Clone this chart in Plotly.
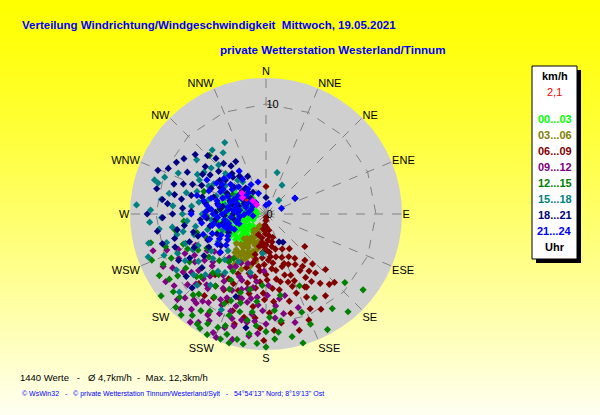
"""
Windrose (Verteilung Windrichtung/Windgeschwindigkeit) im WsWin32-Stil
"""

import plotly.graph_objects as go

W, H = 600, 415

# Richtungen / Beschriftung
directions = [i * 22.5 for i in range(16)]
direction_labels = ['N', 'NNE', 'NE', 'ENE', 'E', 'ESE', 'SE', 'SSE',
                    'S', 'SSW', 'SW', 'WSW', 'W', 'WNW', 'NW', 'NNW']
ring_kmh = [10]
radial_ticks = [0, 10]

# Zeitklassen (Uhr)
hour_bins = ['00...03', '03...06', '06...09', '09...12',
             '12...15', '15...18', '18...21', '21...24']
bin_colors = ['#00FF00', '#808000', '#800000', '#800080',
              '#008000', '#008080', '#000080', '#0000FF']

# Messwerte (Richtung in Grad, Geschwindigkeit km/h), aus dem Bild geschaetzt
pts_00_03 = [(300, 3.0), (305, 2.6), (310, 2.2), (295, 2.8), (290, 3.2), (285, 2.5),
             (280, 3.0), (275, 2.2), (270, 3.4), (265, 2.8), (260, 3.0), (255, 2.4),
             (250, 3.3), (245, 3.6), (240, 3.0), (235, 3.4), (230, 2.8), (300, 1.8),
             (290, 1.5), (280, 1.8), (270, 1.2), (260, 1.6), (250, 2.0), (240, 2.2),
             (310, 1.2), (295, 3.8), (285, 4.0), (275, 3.9), (265, 3.6), (255, 3.9),
             (248, 4.2), (238, 3.9), (300, 2.2), (282, 2.7), (262, 2.1), (252, 2.7),
             (244, 2.5), (234, 2.0), (228, 3.2), (315, 2.8), (320, 1.9), (288, 1.0),
             (272, 0.8), (256, 1.0), (225, 2.5), (270, 2.6), (278, 3.5), (258, 3.3),
             (242, 3.1), (293, 2.3), (236, 1.8), (232, 2.4), (228, 1.6), (222, 2.0),
             (218, 2.6), (226, 3.8), (245, 1.3), (262, 3.9), (268, 3.0), (284, 2.1),
             (296, 1.4), (304, 3.4), (298, 3.5), (286, 3.4), (276, 2.8), (254, 1.6),
             (246, 2.9), (238, 2.6), (292, 4.2), (274, 4.4), (260, 4.4), (250, 4.6),
             (308, 2.9), (317, 2.2), (266, 1.4), (280, 1.2), (240, 3.5), (230, 3.6),
             (220, 3.2)]
pts_03_06 = [(210, 1.5), (210, 2.0), (212, 2.5), (210, 3.0), (208, 3.5), (212, 4.0),
             (215, 4.3), (205, 4.5), (215, 3.2), (218, 2.8), (205, 2.2), (200, 3.0),
             (203, 3.8), (220, 3.6), (220, 4.2), (198, 4.0), (195, 3.4), (200, 4.8),
             (207, 5.0), (213, 2.0), (217, 1.8), (222, 3.0), (225, 3.8), (202, 1.8),
             (196, 2.6), (209, 4.2), (214, 4.8), (192, 4.4), (206, 2.7), (211, 3.3),
             (190, 3.0), (204, 5.5), (218, 5.2), (209, 1.2), (211, 1.8), (207, 2.4),
             (213, 2.9), (209, 3.4), (206, 3.9), (211, 4.4), (216, 4.8), (203, 4.2),
             (199, 3.6), (201, 2.8), (214, 3.7), (219, 4.5), (208, 4.8), (197, 5.0),
             (212, 5.4)]
pts_06_09 = [(180, 0.6), (178, 1.2), (182, 1.8), (176, 2.4), (183, 3.0), (175, 3.5),
             (185, 4.0), (172, 4.5), (188, 4.8), (170, 1.5), (168, 2.6), (165, 3.3),
             (190, 2.2), (192, 3.0), (195, 3.8), (174, 3.9), (186, 1.0), (180, 2.8),
             (170, 5.2), (180, 5.5), (190, 5.8), (160, 4.2), (163, 5.0), (158, 6.0),
             (150, 5.3), (145, 5.8), (148, 6.8), (140, 7.0), (142, 8.0), (138, 8.6),
             (135, 8.8), (152, 7.5), (160, 7.0), (168, 6.3), (175, 6.8), (182, 7.2),
             (195, 6.5), (200, 7.4), (205, 6.0), (198, 8.0), (188, 8.5), (178, 9.0),
             (165, 8.2), (155, 9.5), (185, 6.2), (200, 5.2), (210, 6.8), (215, 8.0),
             (220, 7.2), (192, 9.6), (172, 10.0), (183, 10.4), (160, 4.8), (155, 3.5),
             (0, 2.5), (162, 6.5), (147, 4.8), (195, 4.6), (205, 7.0), (212, 9.0),
             (175, 8.0), (158, 10.4), (140, 5.5), (133, 7.4), (210, 10.5), (130, 4.6),
             (152, 4.4), (149, 6.0), (143, 6.5), (151, 7.6), (159, 7.7), (178, 0.3),
             (184, 1.5), (172, 2.0), (188, 2.6), (179, 3.3), (170, 3.0), (185, 3.5),
             (177, 4.2), (182, 4.6), (193, 4.2), (167, 4.0), (174, 5.0), (186, 5.2),
             (196, 5.6), (179, 6.0), (171, 6.0), (163, 5.8), (188, 6.8), (181, 7.8),
             (192, 7.4), (170, 7.0), (157, 6.6), (154, 8.4), (146, 7.4), (137, 6.2),
             (144, 9.2), (166, 9.3), (186, 9.5), (199, 9.3), (204, 8.6), (209, 7.9),
             (217, 9.3), (224, 8.8), (196, 10.4), (176, 10.6), (164, 11.0), (150, 10.0),
             (181, 11.5), (156, 5.0), (146, 3.8), (164, 2.2), (191, 1.4), (200, 2.0)]
pts_09_12 = [(243, 10.5), (243, 8.9), (240, 7.5), (235, 9.2), (230, 8.0), (232, 10.6),
             (228, 6.5), (225, 9.0), (222, 7.6), (220, 10.2), (218, 8.6), (215, 6.8),
             (213, 9.6), (210, 7.8), (208, 11.0), (205, 8.4), (203, 6.2), (200, 9.4),
             (198, 7.2), (196, 10.6), (194, 5.8), (192, 8.2), (190, 6.8), (188, 9.2),
             (186, 7.6), (184, 10.9), (202, 12.1), (218, 10.3), (171, 7.8), (167, 7.6),
             (161, 9.0), (175, 9.5), (178, 6.5), (182, 5.2), (200, 4.8), (210, 5.5),
             (220, 5.2), (226, 11.2), (236, 11.0), (212, 11.6), (195, 11.8), (230, 5.5),
             (238, 6.3), (205, 10.0), (215, 12.0), (188, 11.2), (207, 5.0), (224, 8.2),
             (233, 7.0), (198, 8.8), (185, 8.3), (193, 9.9), (165, 10.2), (246, 7.0),
             (250, 9.6), (190, 7.8), (194, 7.0), (200, 6.4), (204, 7.6), (208, 8.8),
             (212, 7.2), (216, 9.8), (220, 8.4), (224, 10.6), (228, 9.6), (232, 8.6),
             (236, 7.8), (240, 9.8), (244, 8.2), (248, 8.6), (252, 10.8), (200, 11.0),
             (204, 11.8), (190, 10.0), (186, 9.8), (182, 8.8), (179, 7.4), (174, 8.4),
             (170, 9.2), (196, 8.0), (214, 5.8), (226, 6.8), (234, 5.8), (222, 11.6),
             (210, 10.6), (218, 11.0), (206, 9.2), (198, 10.0), (180, 10.0), (188, 6.2)]
pts_12_15 = [(131, 9.5), (152, 11.9), (164, 12.2), (168, 11.4), (176, 11.4), (180, 10.7),
             (206, 12.2), (196, 12.2), (193, 11.7), (212, 11.8), (230, 11.0), (226, 10.9),
             (220, 9.5), (215, 8.0), (210, 10.2), (205, 9.0), (200, 10.8), (198, 7.5),
             (190, 9.8), (186, 8.0), (183, 6.5), (175, 8.8), (170, 7.5), (222, 7.2),
             (228, 8.5), (235, 9.8), (238, 8.2), (242, 7.0), (245, 9.5), (240, 11.2),
             (233, 6.5), (225, 6.0), (218, 5.5), (208, 6.8), (202, 8.5), (195, 9.2),
             (188, 11.0), (160, 9.5), (155, 7.2), (150, 8.8), (172, 9.8), (214, 10.6),
             (250, 8.0), (248, 5.8), (255, 6.5), (316, 7.4), (300, 3.5), (290, 6.0),
             (260, 4.6), (265, 7.5), (203, 11.2), (185, 10.2), (210, 12.0), (198, 11.5),
             (200, 12.1), (208, 11.3), (216, 11.4), (220, 12.0), (224, 11.8), (232, 12.1),
             (236, 10.6), (244, 10.4), (248, 11.2), (252, 9.6), (256, 10.8), (246, 7.8),
             (240, 6.2), (236, 8.8), (230, 7.6), (226, 8.2), (222, 9.9), (218, 7.0),
             (212, 8.9), (206, 7.6), (200, 9.8), (196, 8.4), (192, 7.0), (188, 9.0),
             (184, 11.8), (178, 9.4), (174, 10.8), (190, 12.0), (180, 12.1), (158, 10.8),
             (145, 10.5), (140, 11.6), (128, 11.2), (260, 8.4), (268, 5.4), (210, 6.0),
             (216, 5.0)]
pts_15_18 = [(274, 11.8), (287, 10.6), (254, 9.4), (297, 6.8), (15, 3.9), (29, 3.0),
             (43, 1.7), (300, 5.5), (305, 4.5), (310, 6.5), (315, 5.2), (290, 4.8),
             (285, 7.5), (280, 6.2), (275, 8.5), (270, 5.8), (265, 7.2), (260, 6.5),
             (255, 5.5), (250, 7.8), (245, 6.8), (240, 8.5), (235, 7.5), (230, 6.3),
             (225, 7.8), (220, 6.8), (262, 9.8), (278, 9.6), (295, 8.8), (268, 4.5),
             (282, 3.8), (250, 4.2), (240, 5.0), (320, 4.0), (325, 6.8), (330, 7.5),
             (308, 8.0), (272, 10.5), (257, 8.3), (248, 10.0), (290, 9.8), (300, 3.2),
             (312, 3.6), (246, 8.8), (232, 9.2), (215, 6.5), (210, 5.0), (195, 5.5),
             (185, 3.6), (205, 9.6), (228, 10.6), (300, 7.2), (268, 9.5), (258, 7.7),
             (325, 4.2), (324, 3.6), (260, 3.6), (264, 5.0), (270, 7.6), (276, 6.8),
             (284, 5.4), (288, 6.6), (292, 4.0), (296, 5.8), (304, 6.8), (310, 5.0),
             (316, 6.2), (320, 7.6), (282, 9.0), (286, 10.2), (266, 10.6), (256, 11.0),
             (250, 11.4), (244, 7.4), (238, 9.6), (236, 6.0), (230, 8.6), (224, 9.0),
             (222, 5.6), (218, 8.2), (226, 4.8), (242, 3.8), (254, 6.8), (262, 8.6),
             (298, 4.2), (304, 2.8), (290, 2.2), (276, 1.8)]
pts_18_21 = [(315, 7.5), (298, 8.1), (261, 10.0), (0, 1.5), (149, 3.0), (320, 6.0),
             (318, 4.5), (312, 5.8), (308, 7.0), (305, 6.2), (300, 4.8), (295, 5.5),
             (292, 7.2), (288, 8.8), (285, 6.0), (282, 4.5), (280, 7.8), (278, 9.5),
             (275, 5.2), (272, 6.8), (270, 8.5), (268, 3.8), (265, 6.0), (262, 7.5),
             (258, 5.2), (255, 8.6), (252, 6.5), (248, 4.8), (245, 7.2), (242, 9.0),
             (290, 3.5), (300, 3.0), (310, 3.8), (325, 4.2), (330, 5.5), (322, 3.0),
             (283, 10.2), (270, 10.8), (295, 9.8), (276, 4.2), (264, 4.6), (254, 3.6),
             (286, 2.6), (296, 2.2), (304, 9.0), (240, 6.0), (235, 5.0), (230, 7.6),
             (225, 9.5), (200, 8.0), (190, 10.5), (155, 2.8), (62, 3.0), (282, 8.5),
             (276, 9.0), (320, 4.8), (329, 2.3), (250, 8.8), (318, 6.8), (314, 3.0),
             (310, 4.8), (306, 5.2), (302, 6.8), (298, 4.0), (294, 6.4), (290, 8.0),
             (288, 5.0), (284, 7.0), (280, 5.6), (278, 3.4), (274, 7.6), (272, 4.6),
             (268, 9.4), (266, 5.4), (262, 3.0), (260, 8.2), (256, 6.8), (254, 9.8),
             (250, 7.4), (246, 5.8), (244, 3.8), (240, 8.0), (236, 6.8), (232, 9.2),
             (310, 8.4), (300, 9.4), (292, 10.6), (286, 3.2), (302, 2.4), (316, 2.0),
             (324, 5.4), (334, 3.8), (280, 4.0), (270, 3.0), (258, 4.0)]
pts_21_24 = [(61, 3.0), (320, 2.5), (315, 3.5), (310, 4.2), (305, 3.0), (300, 4.5),
             (295, 3.8), (290, 2.8), (285, 4.6), (280, 3.5), (275, 5.0), (270, 4.0),
             (265, 3.2), (260, 4.8), (255, 4.0), (250, 5.2), (245, 4.5), (240, 4.0),
             (298, 2.0), (308, 1.8), (288, 1.9), (278, 2.4), (268, 2.0), (258, 2.6),
             (248, 3.4), (302, 5.3), (292, 5.6), (282, 5.8), (272, 5.5), (262, 5.9),
             (252, 6.0), (316, 4.8), (326, 3.8), (333, 3.0), (0, 0.8), (340, 2.0),
             (346, 3.0), (70, 1.5), (310, 2.8), (294, 3.2), (276, 3.0), (266, 4.4),
             (256, 3.5), (238, 5.2), (232, 4.6), (285, 6.5), (300, 6.2), (270, 6.8),
             (15, 1.0), (318, 1.4), (312, 2.4), (306, 3.8), (302, 2.6), (298, 3.0),
             (296, 4.6), (292, 2.0), (290, 4.2), (288, 3.4), (286, 5.2), (282, 2.8),
             (280, 4.4), (278, 5.4), (274, 3.6), (272, 2.6), (270, 4.8), (268, 5.6),
             (264, 2.4), (262, 3.8), (258, 5.0), (256, 4.4), (254, 2.8), (250, 3.8),
             (246, 5.6), (244, 3.2), (242, 4.8), (236, 4.2), (230, 5.4), (310, 5.0),
             (304, 4.8), (324, 2.8), (328, 4.6), (300, 1.4), (286, 1.4), (274, 1.6),
             (262, 1.2), (250, 2.6)]
pts_highlight = [(311, 2.9), (315, 1.7), (315, 1.2), (305, 2.6)]
pts_now = [(305, 2.2)]

all_bins = [pts_00_03, pts_03_06, pts_06_09, pts_09_12,
            pts_12_15, pts_15_18, pts_18_21, pts_21_24]

current_speed = '2,1'
title_1 = 'Verteilung Windrichtung/Windgeschwindigkeit  Mittwoch, 19.05.2021'
title_2 = 'private Wetterstation Westerland/Tinnum'
NB = '\u00a0'
summary = (f'1440 Werte{NB*3}-{NB*3}\u00d8 4,7km/h{NB*2}-{NB*2}Max. 12,3km/h')
credits = (f'\u00a9 WsWin32{NB*3}-{NB*3}\u00a9 private Wetterstation Tinnum/Westerland/Sylt'
           f'{NB*3}-{NB*3}54\u00b054\'13\'\' Nord; 8\u00b019\'13\'\' Ost')

FONT = 'Liberation Sans, Arial, sans-serif'

# Polar-Mittelpunkt und Radius in Pixeln
CX, CY, RAD = 266, 214, 136


def px(x, y):
    return x / W, 1 - y / H


fig = go.Figure()

# Gitterring (Polygon ueber die 16 Richtungen)
for r in ring_kmh:
    fig.add_trace(go.Scatterpolar(
        r=[r] * (len(directions) + 1),
        theta=directions + [directions[0]],
        mode='lines',
        line=dict(color='#808080', width=1, dash='dash'),
        hoverinfo='skip',
        showlegend=False,
    ))

# Punkte pro Zeitklasse
for label, color, pts in zip(hour_bins, bin_colors, all_bins):
    fig.add_trace(go.Scatterpolar(
        theta=[p[0] for p in pts],
        r=[p[1] for p in pts],
        mode='markers',
        name=label,
        marker=dict(symbol='diamond', size=5.5, color=color, line=dict(width=0)),
        hoverinfo='skip',
        showlegend=False,
    ))

fig.add_trace(go.Scatterpolar(
    theta=[p[0] for p in pts_highlight],
    r=[p[1] for p in pts_highlight],
    mode='markers',
    marker=dict(symbol='diamond', size=5.5, color='#FF00FF', line=dict(width=0)),
    hoverinfo='skip',
    showlegend=False,
))
fig.add_trace(go.Scatterpolar(
    theta=[p[0] for p in pts_now],
    r=[p[1] for p in pts_now],
    mode='markers',
    marker=dict(symbol='diamond', size=3, color='#FF0000', line=dict(width=0)),
    hoverinfo='skip',
    showlegend=False,
))

# Hintergrund: Farbverlauf gelb -> hellgelb
shapes = []
n_bands = 83
for i in range(n_bands):
    t = (i + 0.5) / n_bands
    b = int(round(242 * t ** 1.25))
    shapes.append(dict(
        type='rect', xref='paper', yref='paper',
        x0=0, x1=1, y0=1 - (i + 1) / n_bands - 0.002, y1=1 - i / n_bands,
        fillcolor=f'rgb(255,255,{b})', line=dict(width=0), layer='below',
    ))

# Legendenkasten mit Schatten
bx0, by0, bx1, by1 = 532, 66, 577, 259
shapes.append(dict(type='rect', xref='paper', yref='paper',
                   x0=(bx0 + 4) / W, x1=(bx1 + 4) / W,
                   y0=1 - (by1 + 4) / H, y1=1 - (by0 + 4) / H,
                   fillcolor='black', line=dict(width=0), layer='above'))
shapes.append(dict(type='rect', xref='paper', yref='paper',
                   x0=bx0 / W, x1=bx1 / W, y0=1 - by1 / H, y1=1 - by0 / H,
                   fillcolor='white', line=dict(color='black', width=1), layer='above'))

annotations = []


def add_text(x, y, text, color='black', size=11, bold=False, xanchor='left'):
    ax, ay = px(x, y)
    annotations.append(dict(
        x=ax, y=ay, xref='paper', yref='paper', xanchor=xanchor, yanchor='middle',
        text=f'<b>{text}</b>' if bold else text, showarrow=False,
        font=dict(family=FONT, size=size, color=color),
    ))


add_text(20, 25, title_1, color='#0000FF', size=11.5, bold=True)
add_text(218, 50, title_2, color='#0000FF', size=11.6, bold=True)
add_text(18, 377, summary, size=9.5)
add_text(20, 394, credits, color='#0000FF', size=7)

lx = (bx0 + bx1) / 2
add_text(lx, 76, 'km/h', size=11, bold=True, xanchor='center')
add_text(lx, 92, current_speed, color='#FF0000', size=11, xanchor='center')
for k, (label, color) in enumerate(zip(hour_bins, bin_colors)):
    add_text(lx, 119 + 16 * k, label, color=color, size=11, bold=True, xanchor='center')
add_text(lx, 247, 'Uhr', size=11, bold=True, xanchor='center')

fig.update_layout(
    width=W, height=H,
    margin=dict(l=0, r=0, t=0, b=0),
    paper_bgcolor='#FFFF80',
    showlegend=False,
    hovermode=False,
    shapes=shapes,
    annotations=annotations,
    font=dict(family=FONT, size=11, color='black'),
    polar=dict(
        domain=dict(x=[(CX - RAD) / W, (CX + RAD) / W],
                    y=[(H - CY - RAD) / H, (H - CY + RAD) / H]),
        bgcolor='#CFCFCF',
        angularaxis=dict(
            rotation=90, direction='clockwise',
            tickmode='array', tickvals=directions, ticktext=direction_labels,
            showline=False, ticks='',
            showgrid=True, gridcolor='#808080', griddash='dash', gridwidth=1,
            tickfont=dict(family=FONT, size=11, color='black'),
        ),
        radialaxis=dict(
            range=[0, RAD / 11], angle=90, side='clockwise', tickangle=90,
            tickmode='array', tickvals=radial_ticks,
            showgrid=False, showline=False, ticks='',
            tickfont=dict(family=FONT, size=11, color='black'),
        ),
    ),
)

fig.write_html("out.html", config={'displayModeBar': False},
               post_script="document.body.style.margin = '0px';")
